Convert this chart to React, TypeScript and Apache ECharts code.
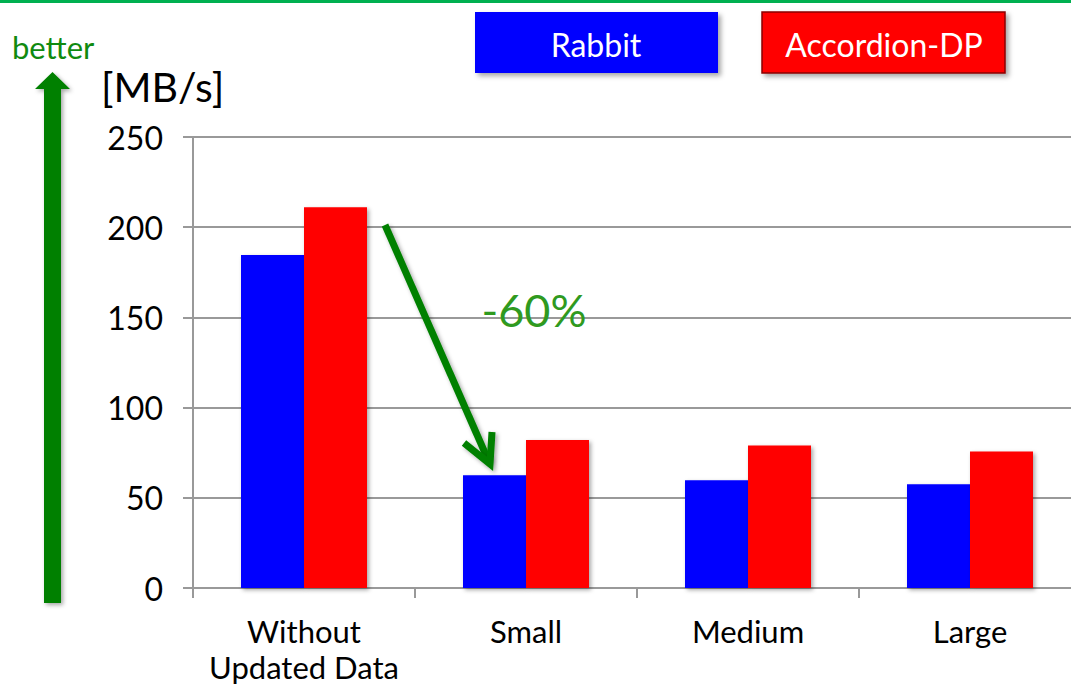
import React, { useEffect, useRef } from "react";
import * as echarts from "echarts";

const categories = ["Without\nUpdated Data", "Small", "Medium", "Large"];
const rabbit = [184.6, 62.5, 59.7, 57.5];
const accordion = [211, 82, 79, 75.6];
const seriesNames = ["Rabbit", "Accordion-DP"];
const yTicks = { min: 0, max: 250, interval: 50 };
const unitLabel = "[MB/s]";
const betterLabel = "better";
const dropLabel = "-60%";

const FONT = "Lato, 'Open Sans', sans-serif";
const GREEN = "#008000";

export default function App() {
  const ref = useRef<HTMLDivElement>(null);
  useEffect(() => {
    const chart = echarts.init(ref.current!, null, { renderer: "svg" });
    const shadow = {
      shadowBlur: 4,
      shadowColor: "rgba(0,0,0,0.35)",
      shadowOffsetX: 2,
      shadowOffsetY: 2,
    };
    chart.setOption({
      animation: false,
      backgroundColor: "#ffffff",
      grid: { left: 193, top: 137, bottom: 99, right: 0, containLabel: false },
      xAxis: {
        type: "category",
        data: categories,
        axisLine: { show: true, lineStyle: { color: "#999999", width: 2 } },
        axisTick: { show: true, length: 10, lineStyle: { color: "#999999", width: 2 } },
        axisLabel: {
          interval: 0,
          fontSize: 31,
          fontFamily: FONT,
          color: "#000000",
          margin: 25,
          lineHeight: 36,
        },
      },
      yAxis: {
        type: "value",
        min: yTicks.min,
        max: yTicks.max,
        interval: yTicks.interval,
        axisLine: { show: true, lineStyle: { color: "#999999", width: 2 } },
        axisTick: { show: true, length: 10, lineStyle: { color: "#999999", width: 2 } },
        splitLine: { show: true, lineStyle: { color: "#999999", width: 2 } },
        axisLabel: {
          fontSize: 32,
          fontFamily: FONT,
          color: "#000000",
          margin: 30,
        },
      },
      series: [
        {
          name: seriesNames[0],
          type: "bar",
          data: rabbit,
          barWidth: 63,
          barGap: "0%",
          itemStyle: { color: "#0000ff", ...shadow },
        },
        {
          name: seriesNames[1],
          type: "bar",
          data: accordion,
          barWidth: 63,
          barGap: "0%",
          itemStyle: { color: "#ff0000", ...shadow },
        },
      ],
      graphic: [
        { type: "rect", shape: { x: 0, y: 0, width: 1081, height: 3 }, style: { fill: "#00b050" }, z: 10 },
        {
          type: "rect",
          shape: { x: 475, y: 12, width: 243, height: 61 },
          style: { fill: "#0000ff", ...shadow, shadowBlur: 5, shadowOffsetX: 3, shadowOffsetY: 3 },
          z: 10,
        },
        {
          type: "text",
          x: 596,
          y: 44,
          style: { text: seriesNames[0], fill: "#ffffff", fontSize: 32, fontFamily: FONT, textAlign: "center", textVerticalAlign: "middle" },
          z: 11,
        },
        {
          type: "rect",
          shape: { x: 762, y: 12, width: 243, height: 61 },
          style: { fill: "#ff0000", stroke: "#8b0000", lineWidth: 1.5, ...shadow, shadowBlur: 5, shadowOffsetX: 3, shadowOffsetY: 3 },
          z: 10,
        },
        {
          type: "text",
          x: 884,
          y: 44,
          style: { text: seriesNames[1], fill: "#ffffff", fontSize: 32, fontFamily: FONT, textAlign: "center", textVerticalAlign: "middle" },
          z: 11,
        },
        {
          type: "text",
          x: 12,
          y: 47,
          style: { text: betterLabel, fill: "#108a10", fontSize: 31, fontFamily: FONT, textAlign: "left", textVerticalAlign: "middle" },
          z: 11,
        },
        {
          type: "text",
          x: 101,
          y: 86,
          style: { text: unitLabel, fill: "#000000", fontSize: 41, fontFamily: FONT, textAlign: "left", textVerticalAlign: "middle" },
          z: 11,
        },
        {
          type: "polygon",
          shape: {
            points: [
              [44, 603],
              [44, 89],
              [35, 89],
              [52.5, 72],
              [70, 89],
              [61, 89],
              [61, 603],
            ],
          },
          style: { fill: GREEN, ...shadow },
          z: 10,
        },
        {
          type: "line",
          shape: { x1: 385, y1: 225, x2: 489, y2: 462 },
          style: { stroke: GREEN, lineWidth: 7, ...shadow },
          z: 10,
        },
        {
          type: "polyline",
          shape: { points: [[464, 443], [490, 464], [492, 432]] },
          style: { stroke: GREEN, lineWidth: 7, fill: null, lineJoin: "miter", ...shadow },
          z: 10,
        },
        {
          type: "text",
          x: 534,
          y: 310,
          style: { text: dropLabel, fill: "#2f9a1f", fontSize: 45, fontFamily: FONT, textAlign: "center", textVerticalAlign: "middle" },
          z: 11,
        },
      ],
    });
    return () => chart.dispose();
  }, []);
  return (
    <div
      style={{ position: "absolute", left: 0, top: 0, width: 1071, height: 687, overflow: "hidden", background: "#fff" }}
    >
      <div ref={ref} style={{ width: 1081, height: 687 }} />
    </div>
  );
}
